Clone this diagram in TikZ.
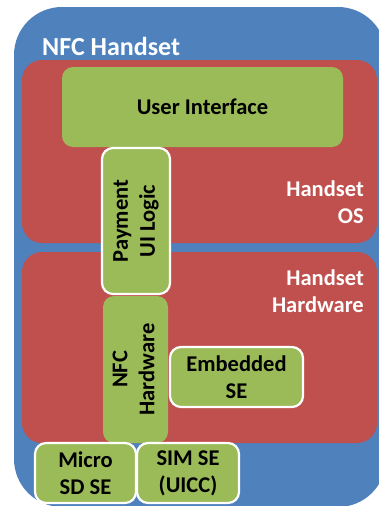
\documentclass[tikz,border=0pt]{standalone}
\usepackage{fontspec}
\setmainfont{Carlito}
\definecolor{nfcblue}{HTML}{4F81BD}
\definecolor{nfcred}{HTML}{C0504D}
\definecolor{nfcgreen}{HTML}{9BBB59}
\begin{document}
\begin{tikzpicture}[x=1pt,y=-1pt,
  layer/.style={fill=nfcred, rounded corners=20pt, inner sep=0pt},
  gbox/.style={fill=nfcgreen, rounded corners=11pt, inner sep=0pt, align=center,
     font=\bfseries\fontsize{22.5}{27}\selectfont, text=black},
  wbox/.style={gbox, draw=white, line width=2.2pt},
  wlabel/.style={text=white, font=\bfseries\fontsize{22.5}{27}\selectfont, align=right, inner sep=0pt}
]
\useasboundingbox (0,0) rectangle (379,506);
\clip (0,0) rectangle (379,506);
% outer handset
\node[fill=nfcblue, rounded corners=48pt, minimum width=372pt, minimum height=500pt, inner sep=0pt] (handset) at (200,257) {};
\node[text=white, font=\bfseries\fontsize{26}{30}\selectfont, anchor=base west, inner sep=0pt] (handsetlbl) at (42,55) {NFC Handset};
% layers
\node[layer, minimum width=355pt, minimum height=183pt] (os) at (199.5,151.5) {};
\node[layer, minimum width=355pt, minimum height=191pt] (hw) at (199.5,347.5) {};
\node[wlabel, anchor=north east] (oslbl) at (364,181) {Handset\\OS};
\node[wlabel, anchor=north east] (hwlbl) at (364,270) {Handset\\Hardware};
% components
\node[gbox, minimum width=281pt, minimum height=80pt] (ui) at (202.5,107) {User Interface};
\node[gbox, minimum width=65pt, minimum height=147pt] (nfchw) at (135.5,369.5) {\rotatebox{90}{\begin{tabular}{@{}c@{}}NFC\\Hardware\end{tabular}}};
\node[wbox, minimum width=68pt, minimum height=146pt] (pay) at (136,221) {\rotatebox{90}{\begin{tabular}{@{}c@{}}Payment\\UI Logic\end{tabular}}};
\node[wbox, minimum width=133pt, minimum height=60pt] (ese) at (236.5,377) {Embedded\\SE};
\node[wbox, minimum width=101pt, minimum height=60pt] (sd) at (85.5,473) {Micro\\SD SE};
\node[wbox, minimum width=102pt, minimum height=60pt] (sim) at (188,473) {SIM SE\\(UICC)};
\end{tikzpicture}
\end{document}
